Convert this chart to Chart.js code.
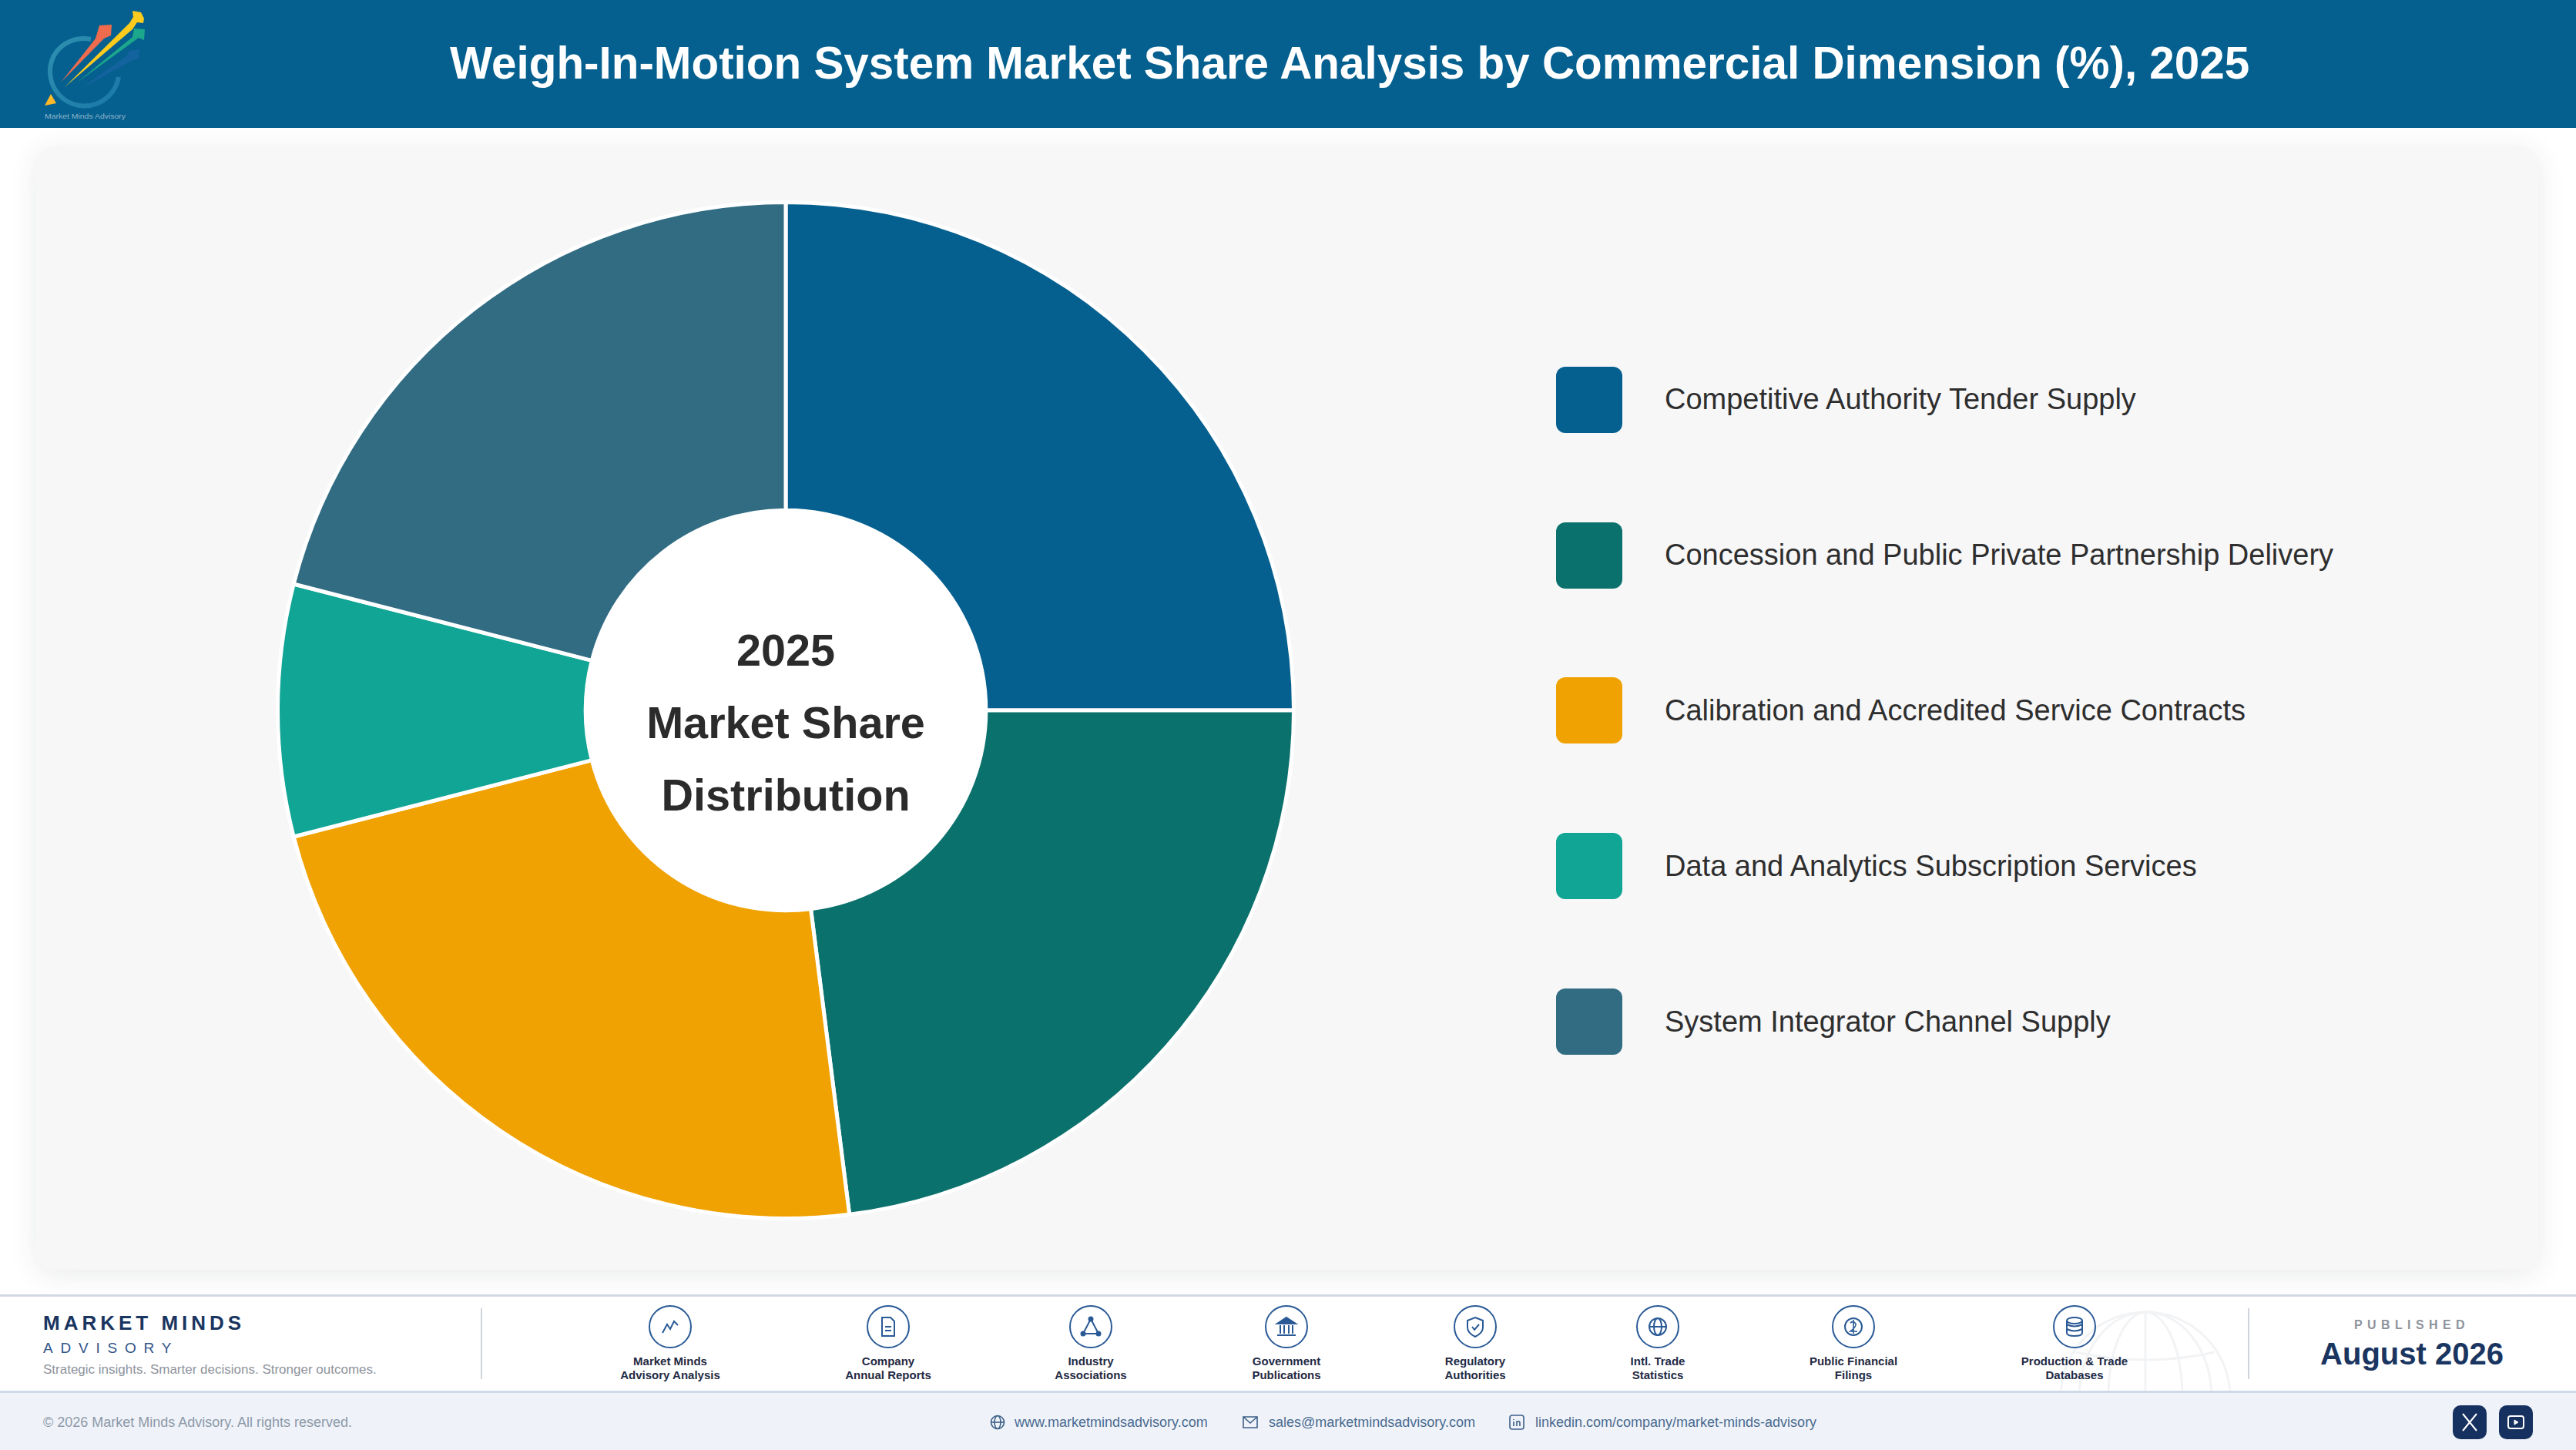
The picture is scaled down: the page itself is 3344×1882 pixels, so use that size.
<!DOCTYPE html>
<html><head><meta charset="utf-8">
<script src="https://cdn.jsdelivr.net/npm/chart.js@4"></script>
<style>
*{box-sizing:border-box;margin:0;padding:0}
html,body{width:3344px;height:1882px;overflow:hidden;background:#fff;font-family:"Liberation Sans",Arial,sans-serif}
.abs{position:absolute;white-space:nowrap}
#header{position:absolute;left:0;top:0;width:3344px;height:166px;background:#05608F}
#title{left:584px;width:2336px;top:0;height:163px;line-height:163px;text-align:center;color:#fff;font-weight:700;font-size:58.4px}
#card{position:absolute;left:47px;top:190px;width:3248px;height:1458px;background:#F7F7F8;border-radius:24px;box-shadow:0 6px 36px rgba(40,50,70,.10)}
#chartBox{position:absolute;left:340px;top:242px;width:1360px;height:1360px}
.ctext{left:620px;width:800px;text-align:center;font-weight:700;font-size:57.6px;color:#2B2B2B;line-height:70px;height:70px}
.sw{position:absolute;left:2020px;width:86px;height:86px;border-radius:12px}
.lt{left:2161px;font-size:38px;color:#2E2E2E;line-height:50px;height:50px}
#band{position:absolute;left:0;top:1680px;width:3344px;height:128px;background:#fff;border-top:3px solid #D3D7E3;border-bottom:3px solid #D0D9E8;overflow:hidden}
#low{position:absolute;left:0;top:1808px;width:3344px;height:74px;background:#EFF3F9}
.vsep{position:absolute;width:2px;top:1698px;height:92px;background:#CFD4DC}
.ic{position:absolute;top:1694px;width:56px;height:56px}
.il{width:300px;text-align:center;font-size:15px;font-weight:700;color:#1F2A44;line-height:18px;height:18px}
.lnk{font-size:18px;color:#4A6A90;line-height:24px;height:24px;top:1834px}
.li{position:absolute;top:1834px;width:24px;height:24px}
.btn{position:absolute;top:1824px;width:44px;height:44px;border-radius:10px;background:#16305F}
</style></head><body>
<div id="header"></div>
<svg class="abs" style="left:50px;top:5px" width="150" height="155" viewBox="50 5 150 155">
<defs><linearGradient id="rg" x1="0" y1="0" x2="1" y2="1"><stop offset="0" stop-color="#2F90B0"/><stop offset="1" stop-color="#1B78A8"/></linearGradient></defs>
<path d="M118 51A45 45 0 0 0 70 72A45 45 0 0 0 82 128A45 45 0 0 0 154 100" fill="none" stroke="url(#rg)" stroke-width="6"/>
<path d="M79 107L124 50L129 33L145 32L144 46L135 50Z" fill="#EE6C4D"/>
<path d="M84 113L168 30L173 22L172 14L183 16L187 24L186 30L178 29L172 38Z" fill="#FCCB1E"/>
<path d="M100 107L172 48L174 37L188 38L187 52L180 49Z" fill="#1CA78C"/>
<path d="M105 115L165 72L168 66L181 64L180 76L172 78Z" fill="#13639F"/>
<path d="M58 137L73 134L66 122Z" fill="#FDB92B"/>
<text x="58" y="154" font-family="Liberation Sans" font-size="9" fill="#8FB4CC" textLength="105" lengthAdjust="spacingAndGlyphs">Market Minds Advisory</text>
</svg>
<div class="abs" id="title"></div>
<div id="card"></div>
<div id="chartBox"><canvas id="c" width="1360" height="1360"></canvas></div>
<div id="centerText"></div>
<div id="legend"></div>
<div id="band"><svg class="abs" style="left:2660px;top:-8px" width="250" height="240" viewBox="-125 -120 250 240" fill="none" stroke="#F2F3F5" stroke-width="3">
<circle cx="0" cy="18" r="110"/><ellipse cx="0" cy="18" rx="48" ry="110"/><ellipse cx="0" cy="18" rx="86" ry="110"/><path d="M-110 18H110M-90 -40Q0 -20 90 -40M0 -92V128"/></svg></div>
<div id="low"></div>
<div id="footer"></div>
<script>
const categories=["Competitive Authority Tender Supply","Concession and Public Private Partnership Delivery","Calibration and Accredited Service Contracts","Data and Analytics Subscription Services","System Integrator Channel Supply"];
const shareValues=[25,23,23,8,21];
const sliceColors=["#05608F","#0B716C","#F0A202","#10A594","#316C83"];
const titleText="Weigh-In-Motion System Market Share Analysis by Commercial Dimension (%), 2025";
const centerLines=["2025","Market Share","Distribution"];
const sourceLabels=[["Market Minds","Advisory Analysis"],["Company","Annual Reports"],["Industry","Associations"],["Government","Publications"],["Regulatory","Authorities"],["Intl. Trade","Statistics"],["Public Financial","Filings"],["Production & Trade","Databases"]];

const el=(cls,txt,css,parent)=>{const d=document.createElement('div');d.className=cls;if(txt!=null)d.textContent=txt;d.style.cssText=css||'';(parent||document.body).appendChild(d);return d;};
document.getElementById('title').textContent=titleText;

const centerY=[809,903,997];
const ct=document.getElementById('centerText');
centerLines.forEach((t,i)=>el('abs ctext',t,`top:${centerY[i]}px`,ct));

const lg=document.getElementById('legend');
const swTop=[476,678,879,1081,1283];
categories.forEach((t,i)=>{
  el('sw',null,`top:${swTop[i]}px;background:${sliceColors[i]}`,lg);
  el('abs lt',t,`top:${swTop[i]+(i>=2?18:17)}px`,lg);
});

const holePlugin={id:'hole',beforeDatasetsDraw(ch){
  const a=ch.getDatasetMeta(0).data[0];if(!a)return;
  const g=ch.ctx;g.save();g.fillStyle='#fff';g.beginPath();g.arc(a.x,a.y,a.innerRadius+1,0,Math.PI*2);g.fill();g.restore();
}};
new Chart(document.getElementById('c'),{
  type:'doughnut',
  data:{labels:categories,datasets:[{data:shareValues,backgroundColor:sliceColors,borderColor:'#FFFFFF',borderWidth:5,hoverOffset:0}]},
  options:{responsive:false,animation:false,cutout:'39.4%',rotation:0,devicePixelRatio:1,
    layout:{padding:18},plugins:{legend:{display:false},tooltip:{enabled:false}}},
  plugins:[holePlugin]
});

/* footer */
const ft=document.getElementById('footer');
el('abs','MARKET MINDS','left:56px;top:1703px;font-size:26px;font-weight:700;letter-spacing:5px;color:#1A3560;line-height:28px',ft);
el('abs','ADVISORY','left:56px;top:1739px;font-size:19px;letter-spacing:9.8px;color:#2F5488;line-height:22px',ft);
el('abs','Strategic insights. Smarter decisions. Stronger outcomes.','left:56px;top:1767px;font-size:17px;color:#8E939C;line-height:22px',ft);
el('vsep',null,'left:624px',ft);el('vsep',null,'left:2918px',ft);
const iconX=[870,1153,1416,1670,1915,2152,2406,2693];
const glyphs=[
'<path d="M-10 8L-4 -3L0 3L5 -7L10 -2" fill="none"/>',
'<path d="M-8 -12H3L8 -7V12H-8Z M-4 0H4M-4 5H4" fill="none"/>',
'<path d="M0 -10L-10 9H10Z" fill="none"/><circle cx="0" cy="-10" r="2.5"/><circle cx="-10" cy="9" r="2.5"/><circle cx="10" cy="9" r="2.5"/>',
'<path d="M0 -12L12 -4H-12Z"/><path d="M-8 -2V9M-3 -2V9M3 -2V9M8 -2V9" fill="none"/><path d="M-12 11H12" fill="none"/>',
'<path d="M0 -12L10 -8V1Q10 8 0 13Q-10 8 -10 1V-8Z M-4 0L-1 4L5 -3" fill="none"/>',
'<circle r="11" fill="none"/><ellipse rx="5" ry="11" fill="none"/><path d="M-11 0H11" fill="none"/>',
'<circle r="11" fill="none"/><path d="M-4 -5Q0 -8 3 -4Q4 0 -4 6H5M0 -9V9" fill="none" stroke-width="1.6"/>',
'<ellipse cy="-8" rx="10" ry="4" fill="none"/><path d="M-10 -8V8Q-10 12 0 12Q10 12 10 8V-8M-10 -3Q0 2 10 -3M-10 3Q0 8 10 3" fill="none"/>'];
iconX.forEach((x,i)=>{
  const s=document.createElement('div');s.className='ic';s.style.left=(x-28)+'px';
  s.innerHTML=`<svg width="56" height="56" viewBox="-28 -28 56 56" fill="#2A5A96" stroke="#2A5A96" stroke-width="2"><circle r="27" fill="none" stroke-width="2"/>${glyphs[i]}</svg>`;
  ft.appendChild(s);
  sourceLabels[i].forEach((t,j)=>el('abs il',t,`left:${x-150}px;top:${1758+j*18}px`,ft));
});
el('abs','PUBLISHED','left:2981px;width:300px;text-align:center;top:1711px;font-size:16px;font-weight:700;letter-spacing:6.4px;color:#8E939C;line-height:18px',ft);
el('abs','August 2026','left:2981px;width:300px;text-align:center;top:1733px;font-size:40px;font-weight:700;color:#1A3560;line-height:48px',ft);
el('abs','© 2026 Market Minds Advisory. All rights reserved.','left:56px;top:1834px;font-size:18px;color:#8D99A8;line-height:24px',ft);
const links=[[1295,1317,'www.marketmindsadvisory.com','<circle r="8.5"/><ellipse rx="4" ry="8.5"/><path d="M-8.5 0H8.5"/>'],
[1623,1647,'sales@marketmindsadvisory.com','<path d="M-9 -7H9V7H-9ZM-9 -7L0 1L9 -7"/>'],
[1969,1993,'linkedin.com/company/market-minds-advisory','<rect x="-9" y="-9" width="18" height="18" rx="3"/><path d="M-4 -1V5M0 5V-1Q4 -2 4 1V5M-4 -4V-3"/>']];
links.forEach(([ix,tx,t,g])=>{
  const s=document.createElement('div');s.className='li';s.style.left=(ix-12)+'px';
  s.innerHTML=`<svg width="24" height="24" viewBox="-12 -12 24 24" fill="none" stroke="#3D5F88" stroke-width="1.6">${g}</svg>`;
  ft.appendChild(s);
  el('abs lnk',t,`left:${tx}px`,ft);
});
const b1=el('btn',null,'left:3184px',ft);b1.innerHTML='<svg width="44" height="44" viewBox="-22 -22 44 44" stroke="#fff" stroke-width="2" fill="none"><path d="M-9 -11L9 11M9 -11L-9 11"/></svg>';
const b2=el('btn',null,'left:3244px',ft);b2.innerHTML='<svg width="44" height="44" viewBox="-22 -22 44 44" stroke="#fff" stroke-width="2" fill="none"><rect x="-10" y="-8" width="20" height="16" rx="3"/><path d="M-2 -3L3 0L-2 3Z" fill="#fff" stroke-width="1"/></svg>';
</script>
</body></html>
